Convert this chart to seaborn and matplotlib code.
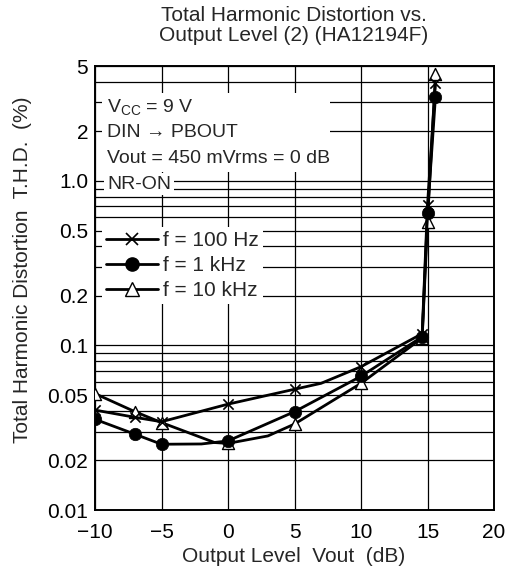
import matplotlib

matplotlib.use("Agg")

import matplotlib.pyplot as plt
import pandas as pd
import seaborn as sns
from matplotlib.lines import Line2D
from matplotlib.patches import Rectangle
from matplotlib.ticker import FixedLocator, NullFormatter

# Output level (dB) and THD (%).
# marked = 0 -> bend in the hand-drawn curve without a symbol
vout_100hz = [-10, -7, -5, 0, 5, 7, 10, 14.6, 15, 15.6]
thd_100hz = [0.0405, 0.0366, 0.0344, 0.0440, 0.0542, 0.0589, 0.0743, 0.118, 0.715, 3.93]
marked_100hz = [1, 1, 1, 1, 1, 0, 1, 1, 1, 1]

vout_1khz = [-10, -7, -5, -2, 0, 5, 10, 14.6, 15, 15.6]
thd_1khz = [0.0356, 0.0289, 0.0251, 0.0252, 0.0263, 0.0396, 0.0650, 0.113, 0.637, 3.26]
marked_1khz = [1, 1, 1, 0, 1, 1, 1, 1, 1, 1]

vout_10khz = [-10, -7, -5, -1, 0, 3, 5, 10, 14.6, 15, 15.6]
thd_10khz = [0.051, 0.0396, 0.034, 0.0257, 0.0254, 0.0282, 0.0333, 0.0589, 0.111, 0.566, 4.47]
marked_10khz = [1, 1, 1, 0, 1, 0, 1, 1, 1, 1, 1]

series_labels = ["f = 100 Hz", "f = 1 kHz", "f = 10 kHz"]

y_major = [0.01, 0.02, 0.05, 0.1, 0.2, 0.5, 1, 2, 5]
y_major_labels = ["0.01", "0.02", "0.05", "0.1", "0.2", "0.5", "1.0", "2", "5"]
y_minor = [0.03, 0.04, 0.06, 0.07, 0.08, 0.09, 0.3, 0.4, 0.6, 0.7, 0.8, 0.9, 3, 4]
x_ticks = [-10, -5, 0, 5, 10, 15, 20]

notes = ["$\\mathregular{V_{CC}}$ = 9 V", "DIN \u2192 PBOUT", "Vout = 450 mVrms = 0 dB"]
note_last = "NR-ON"

sns.set_theme(style="white")
plt.rcParams["font.family"] = ["Liberation Sans", "DejaVu Sans"]
plt.rcParams["axes.unicode_minus"] = True

FS = 15
FS_NOTE = 14

df = pd.concat([
    pd.DataFrame({"vout": vout_100hz, "thd": thd_100hz, "marked": marked_100hz, "f": series_labels[0]}),
    pd.DataFrame({"vout": vout_1khz, "thd": thd_1khz, "marked": marked_1khz, "f": series_labels[1]}),
    pd.DataFrame({"vout": vout_10khz, "thd": thd_10khz, "marked": marked_10khz, "f": series_labels[2]}),
])

# drawing order: 10 kHz at the bottom, 1 kHz on top
styles = {
    series_labels[2]: dict(marker="^", s=75, facecolor="white", edgecolor="black", linewidth=1.0, z=4),
    series_labels[0]: dict(marker="x", s=55, facecolor="black", edgecolor="black", linewidth=1.2, z=6),
    series_labels[1]: dict(marker="o", s=80, facecolor="black", edgecolor="black", linewidth=0.5, z=8),
}

fig = plt.figure(figsize=(5.08, 5.82), dpi=100)
ax = fig.add_axes([95 / 508, 1 - 510 / 582, 399 / 508, 444 / 582])

for label, st in styles.items():
    sub = df[df["f"] == label]
    sns.lineplot(data=sub, x="vout", y="thd", sort=False, estimator=None,
                 color="black", linewidth=2.0, ax=ax, zorder=st["z"], legend=False)
    pts = sub[sub["marked"] == 1]
    sns.scatterplot(data=pts, x="vout", y="thd", marker=st["marker"], s=st["s"],
                    color=st["facecolor"], edgecolor=st["edgecolor"],
                    linewidth=st["linewidth"], ax=ax, zorder=st["z"] + 1, legend=False)

ax.set_yscale("log")
ax.set_ylim(0.01, 5)
ax.set_xlim(-10, 20)
ax.set_yticks(y_major)
ax.set_yticklabels(y_major_labels)
ax.yaxis.set_minor_locator(FixedLocator(y_minor))
ax.yaxis.set_minor_formatter(NullFormatter())
ax.set_xticks(x_ticks)
ax.tick_params(which="both", length=0, labelsize=FS, colors="black")
ax.tick_params(axis="y", pad=5)
ax.tick_params(axis="x", pad=9)
ax.grid(True, which="both", axis="y", color="black", linewidth=0.9)
ax.grid(True, which="major", axis="x", color="black", linewidth=0.9)
ax.set_xlabel("")
ax.set_ylabel("")
for sp in ax.spines.values():
    sp.set_color("black")
    sp.set_linewidth(1.4)

# white block behind the condition notes (hides the grid)
ax.add_patch(Rectangle((0.0175, 0.761), 0.572, 0.178, transform=ax.transAxes,
                       facecolor="white", edgecolor="none", zorder=2.5))
note_y = [0.907, 0.850, 0.791]
for txt, yy in zip(notes, note_y):
    ax.text(0.03, yy, txt, transform=ax.transAxes, fontsize=FS_NOTE, va="center", ha="left", zorder=3)
ax.text(0.03, 0.734, note_last, transform=ax.transAxes, fontsize=FS_NOTE, va="center", ha="left",
        bbox=dict(facecolor="white", edgecolor="none", pad=2.0), zorder=3)

handles = [
    Line2D([], [], color="black", lw=2, marker="x", ms=8.5, mew=1.2),
    Line2D([], [], color="black", lw=2, marker="o", ms=9.5, mfc="black", mec="black"),
    Line2D([], [], color="black", lw=2, marker="^", ms=9.5, mfc="white", mec="black", mew=1.0),
]
leg = ax.legend(handles, series_labels, loc="upper left", bbox_to_anchor=(0.0175, 0.637),
                borderaxespad=0, borderpad=0.2, fontsize=FS, handlelength=2.5,
                handletextpad=0.25, labelspacing=0.28, frameon=True, fancybox=False)
leg.get_frame().set_facecolor("white")
leg.get_frame().set_edgecolor("none")
leg.get_frame().set_alpha(1)
leg.set_zorder(3)

fig.text(294 / 508, 1 - 25.5 / 582, "Total Harmonic Distortion vs.\nOutput Level (2) (HA12194F)",
         ha="center", va="center", fontsize=FS, linespacing=1.05)
fig.text(294 / 508, 1 - 557 / 582, "Output Level  Vout  (dB)", ha="center", va="center", fontsize=FS)
fig.text(23 / 508, 1 - 270 / 582, "Total Harmonic Distortion  T.H.D.  (%)", ha="center",
         va="center", rotation=90, fontsize=FS)

fig.savefig("out.png", dpi=100)
